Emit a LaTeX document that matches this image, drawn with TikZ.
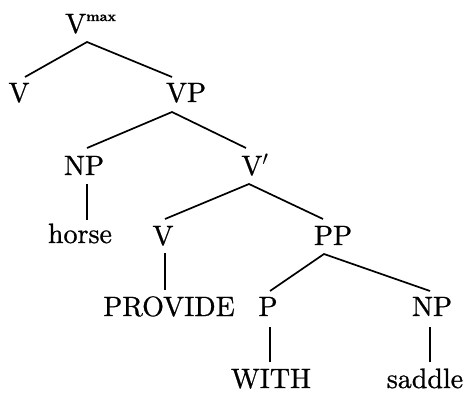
\documentclass[tikz,border=0pt]{standalone}
\usepackage{fontspec}
\setmainfont{lmroman10-regular.otf}[FakeBold=0.8,BoldFont=lmroman10-bold.otf]
\begin{document}
\begin{tikzpicture}[x=1pt,y=1pt,
  lab/.style={inner sep=0pt, anchor=base, font=\fontsize{28}{32}\selectfont},
  br/.style={line width=1.7pt}]
\useasboundingbox (0,0) rectangle (465,392);
% nodes (x, 392-baseline)
\node[lab, anchor=base west] (vmax) at (65,359) {V\raisebox{12pt}{\fontsize{14}{16}\selectfont\bfseries max}};
\node[lab] (v1) at (19,290) {V};
\node[lab] (vp) at (186,290) {VP};
\node[lab] (np1) at (84,217) {NP};
\node[lab] (vbar) at (255,217) {V$'$};
\node[lab] (horse) at (80,149) {horse};
\node[lab] (v2) at (163,147) {V};
\node[lab] (pp) at (333,147) {PP};
\node[lab] (provide) at (169,76) {PROVIDE};
\node[lab] (p) at (268,76) {P};
\node[lab] (np2) at (432,76) {NP};
\node[lab] (with) at (271,4) {WITH};
\node[lab] (saddle) at (425,4) {saddle};
% branches
\draw[br] ([shift={(6,25)}]v1.base) -- ([shift={(22,-9)}]vmax.base west) -- ([shift={(-14,25)}]vp.base);
\draw[br] ([shift={(3,27)}]np1.base) -- ([shift={(-14,-10)}]vp.base) -- ([shift={(-9,27)}]vbar.base);
\draw[br] ([shift={(3,-9)}]np1.base) -- ([shift={(7,23)}]horse.base);
\draw[br] ([shift={(2,26)}]v2.base) -- ([shift={(-6,-9)}]vbar.base) -- ([shift={(-10,26)}]pp.base);
\draw[br] ([shift={(2,-8)}]v2.base) -- ([shift={(-4,26)}]provide.base);
\draw[br] ([shift={(2,25)}]p.base) -- ([shift={(-9,-9)}]pp.base) -- ([shift={(-2,25)}]np2.base);
\draw[br] ([shift={(2,-11)}]p.base) -- ([shift={(-1,26)}]with.base);
\draw[br] ([shift={(-2,-11)}]np2.base) -- ([shift={(5,26)}]saddle.base);
\end{tikzpicture}
\end{document}
